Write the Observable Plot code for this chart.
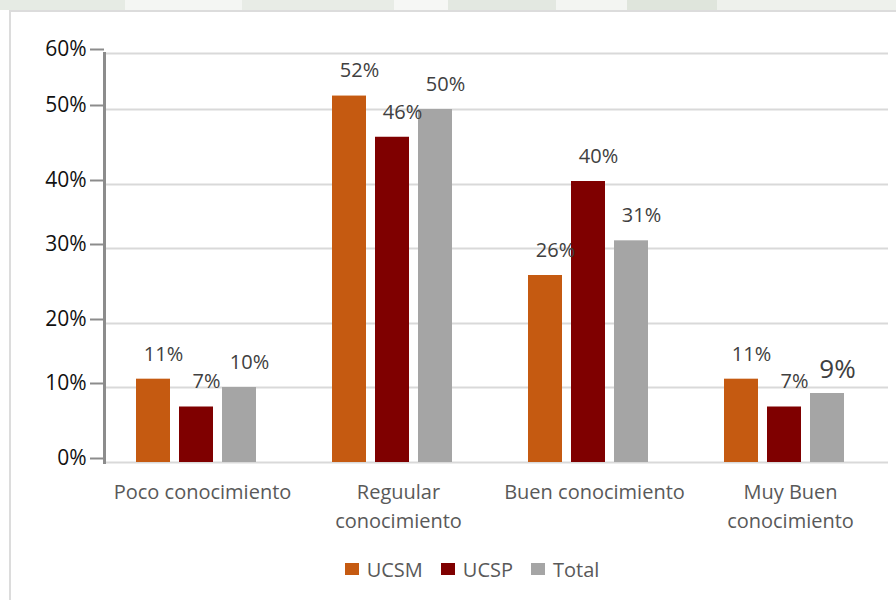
<!DOCTYPE html>
<html>
<head>
<meta charset="utf-8">
<script src="https://cdn.jsdelivr.net/npm/d3@7"></script>
<script src="https://cdn.jsdelivr.net/npm/@observablehq/plot@0.6"></script>
<style>
  html, body { margin: 0; padding: 0; background: #fff; }
  #wrap { position: relative; width: 896px; height: 600px; overflow: hidden; font-family: "Open Sans", sans-serif; }
  #wm { position: absolute; left: 0; top: 0; width: 896px; height: 10px;
        background: linear-gradient(90deg, #e6ebe4 0 14%, #f4f6f3 14% 27%, #e8ece6 27% 44%, #f6f7f5 44% 50%, #e3e8e1 50% 62%, #f3f5f2 62% 70%, #dfe5dc 70% 80%, #eef1ec 80% 100%); }
  #chart { position: absolute; left: 0; top: 0; }
  #bt { position: absolute; left: 9px; top: 10px; width: 887px; height: 0; border-top: 2px solid #dcdcdc; z-index: 2; }
  #bl { position: absolute; left: 9px; top: 10px; width: 0; height: 590px; border-left: 2px solid #dcdcdc; z-index: 2; }
  #legend { position: absolute; left: 48px; top: 556px; width: 848px; height: 26px; display: flex; justify-content: center; align-items: center; font-size: 20px; color: #595959; }
  .item { display: flex; align-items: center; margin: 0 9px; }
  .sw { display: inline-block; width: 14px; height: 12px; margin-right: 8px; }
</style>
</head>
<body>
<div id="wrap">
  <div id="wm"></div>
  <div id="chart"></div>
  <div id="bt"></div>
  <div id="bl"></div>
  <div id="legend"></div>
</div>
<script>
const categories = ["Poco conocimiento", "Reguular conocimiento", "Buen conocimiento", "Muy Buen conocimiento"];
const categoryLabels = ["Poco conocimiento", "Reguular\nconocimiento", "Buen conocimiento", "Muy Buen\nconocimiento"];
const series = ["UCSM", "UCSP", "Total"];
const colors = ["#c55a11", "#7f0000", "#a5a5a5"];
const ucsm = [0.113, 0.524, 0.264, 0.113];
const ucsp = [0.074, 0.463, 0.404, 0.074];
const total = [0.100, 0.500, 0.312, 0.092];
const yTicks = [0, 0.1, 0.2, 0.3, 0.4, 0.5, 0.6];

const values = {UCSM: ucsm, UCSP: ucsp, Total: total};
const data = categories.flatMap((cat, i) => series.map(s => ({cat, series: s, value: values[s][i]})));
const fmt = d3.format(".0%");
const big = d => d.cat === categories[3] && d.series === "Total";

const chart = Plot.plot({
  width: 896,
  height: 545,
  marginLeft: 104,
  marginRight: 8,
  marginTop: 53,
  marginBottom: 83,
  style: {background: "transparent", fontFamily: "'Open Sans', sans-serif", overflow: "visible"},
  fx: {domain: categories, padding: 0, axis: null},
  x: {domain: series, paddingInner: 0.218, paddingOuter: 0.862, align: 0.42, axis: null},
  y: {type: "linear", domain: yTicks, range: [462, 387, 323, 248, 184, 109, 53], axis: null, label: null},
  color: {domain: series, range: colors},
  marks: [
    Plot.ruleY(yTicks, {stroke: "#d9d9d9", strokeWidth: 2}),
    Plot.barY(data, {fx: "cat", x: "series", y: "value", fill: "series"}),
    Plot.text(data, {filter: d => !big(d), fx: "cat", x: "series", y: "value", text: d => fmt(d.value),
      dy: -25, dx: 10, fontSize: 20, fill: "#404040"}),
    Plot.text(data, {filter: big, fx: "cat", x: "series", y: "value", text: d => fmt(d.value),
      dy: -24, dx: 10, fontSize: 26, fill: "#404040"}),
    Plot.text(categories, {fx: d => d, text: d => categoryLabels[categories.indexOf(d)],
      frameAnchor: "bottom", lineAnchor: "top", dy: 16, lineHeight: 1.45, fontSize: 20, fill: "#595959"}),
    Plot.frame({anchor: "left", facetAnchor: "left", stroke: "#8c8c8c", strokeWidth: 3}),
    Plot.axisY(yTicks, {tickSize: 14, tickPadding: 4, tickFormat: fmt, stroke: "#8c8c8c", strokeWidth: 2,
      fill: "#111111", fontSize: 21, dy: -4, label: null})
  ]
});
document.getElementById("chart").appendChild(chart);

const legend = document.getElementById("legend");
series.forEach((s, i) => {
  const item = document.createElement("div");
  item.className = "item";
  const sw = document.createElement("span");
  sw.className = "sw";
  sw.style.background = colors[i];
  const t = document.createElement("span");
  t.textContent = s;
  item.appendChild(sw);
  item.appendChild(t);
  legend.appendChild(item);
});
</script>
</body>
</html>
